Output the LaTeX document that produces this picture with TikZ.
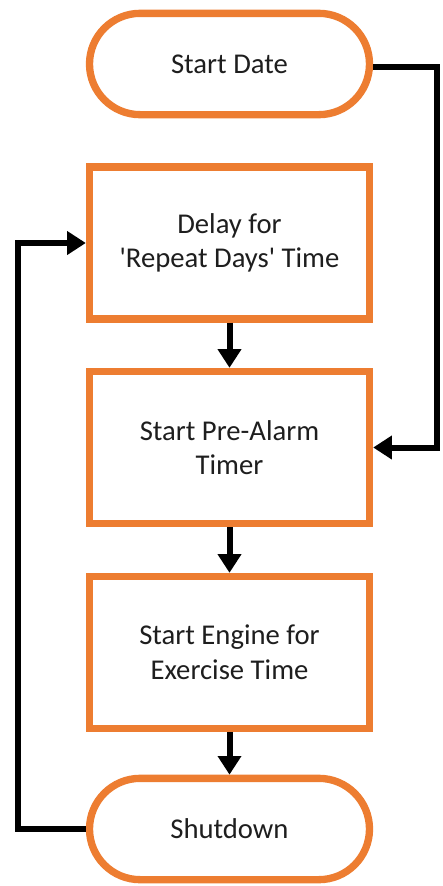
\documentclass[tikz,border=0pt]{standalone}
\usepackage{fontspec}
\setmainfont{Carlito}
\usetikzlibrary{arrows.meta}
\definecolor{boxorange}{HTML}{ED7D31}
\definecolor{inktext}{HTML}{1E1E1E}
\tikzset{
  stepbox/.style={draw=boxorange, line width=5.5pt, fill=white, align=center,
    text=inktext, minimum width=210pt, minimum height=114pt,
    font=\fontsize{21.5}{26}\selectfont},
  term/.style={stepbox, minimum height=76pt, rounded corners=38pt},
  flow/.style={line width=4.5pt, -{Triangle[width=17pt, length=14pt]}}
}
\begin{document}
\begin{tikzpicture}[x=0.75pt, y=-0.75pt]

  % 边界
  \useasboundingbox (0,0) rectangle (443,886);

  % 流程框
  \node[term]    (start) at (229.5,64)    {Start Date};
  \node[stepbox] (delay) at (229.5,243)   {Delay for\\\textquotesingle Repeat Days\textquotesingle\ Time};
  \node[stepbox] (timer) at (229.5,447.5) {Start Pre-Alarm\\Timer};
  \node[stepbox] (engine) at (229.5,652.5) {Start Engine for\\Exercise Time};
  \node[term]    (shut)  at (229.5,829)   {Shutdown};

  % 向下的箭头
  \draw[flow] (delay) -- (timer);
  \draw[flow] (timer) -- (engine);
  \draw[flow] (engine) -- (shut);

  % 右侧：开始日期直接进入预警计时
  \coordinate (rjump) at (437,67);
  \draw[flow] (start.east |- rjump) -- (rjump) |- (timer.east);

  % 左侧：关机后回到延时
  \coordinate (lback) at (18,829);
  \draw[flow] (shut.west) -- (lback) |- (delay.west);

\end{tikzpicture}
\end{document}
